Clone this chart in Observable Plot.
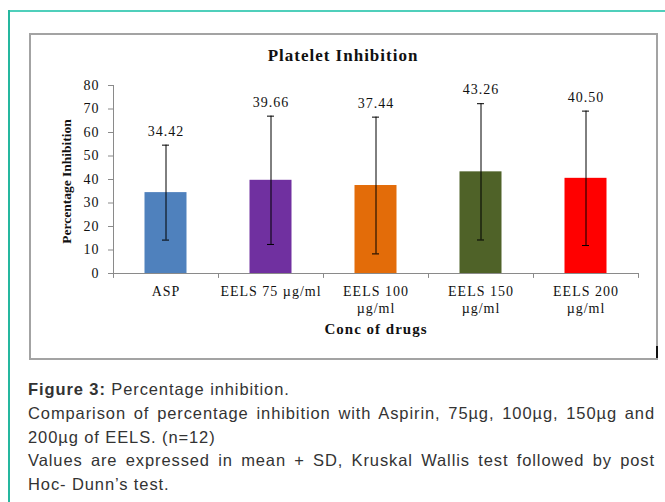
<!DOCTYPE html>
<html>
<head>
<meta charset="utf-8">
<script src="https://cdn.jsdelivr.net/npm/d3@7"></script>
<script src="https://cdn.jsdelivr.net/npm/@observablehq/plot@0.6"></script>
<style>
  html, body { margin: 0; padding: 0; background: #fff; }
  body { width: 665px; height: 502px; position: relative; overflow: hidden; }
  .teal-top { position: absolute; left: 8px; top: 10px; width: 700px; height: 0; border-top: 2px solid #4fcfbb; }
  .teal-left { position: absolute; left: 8px; top: 10px; width: 0; height: 520px; border-left: 2px solid #25b79f; }
  .box { position: absolute; left: 29px; top: 33px; width: 625px; height: 323px; border: 2px solid #a3a3a3; }
  .mark { position: absolute; left: 656px; top: 346px; width: 2px; height: 12px; background: #111; }
  #chart { position: absolute; left: 0; top: 0; }
  #chart svg text { letter-spacing: 1px; }
  #chart svg g[aria-description="ylabel"] text { letter-spacing: 0; }
  .cap { position: absolute; left: 28px; top: 378px; width: 627px;
         font-family: "Liberation Sans", Arial, sans-serif; font-size: 16.5px; letter-spacing: 0.9px;
         line-height: 23.8px; color: #333; }
  .cap div { white-space: nowrap; }
  .cap .full { text-align: justify; text-align-last: justify; white-space: normal; }
</style>
</head>
<body>
<div class="teal-top"></div>
<div class="teal-left"></div>
<div class="box"></div>
<div class="mark"></div>
<div id="chart"></div>
<div class="cap">
  <div><b>Figure 3:</b> Percentage inhibition.</div>
  <div class="full">Comparison of percentage inhibition with Aspirin, 75µg, 100µg, 150µg and</div>
  <div>200µg of EELS. (n=12)</div>
  <div class="full">Values are expressed in mean + SD, Kruskal Wallis test followed by post</div>
  <div>Hoc- Dunn’s test.</div>
</div>
<script>
const categories = ["ASP", "EELS 75 µg/ml", "EELS 100 µg/ml", "EELS 150 µg/ml", "EELS 200 µg/ml"];
const tickLabels = ["ASP", "EELS 75 µg/ml", "EELS 100\nµg/ml", "EELS 150\nµg/ml", "EELS 200\nµg/ml"];
const means = [34.42, 39.66, 37.44, 43.26, 40.50];
const sds = [20.2, 27.3, 29.1, 29.0, 28.6];
const colors = ["#4f81bd", "#7030a0", "#e36c09", "#4f6228", "#ff0000"];
const yTicks = [0, 10, 20, 30, 40, 50, 60, 70, 80];
const title = "Platelet Inhibition";
const xTitle = "Conc of drugs";
const yTitle = "Percentage Inhibition";

const data = categories.map((c, i) => ({cat: c, mean: means[i], sd: sds[i], color: colors[i]}));

const chart = Plot.plot({
  width: 665,
  height: 360,
  marginLeft: 113,
  marginRight: 27,
  marginTop: 85,
  marginBottom: 87,
  style: {fontFamily: "'Liberation Serif', 'Times New Roman', serif", fontSize: "14px", color: "#000", background: "transparent"},
  x: {domain: categories, padding: 0},
  y: {domain: [0, 80]},
  marks: [
    Plot.barY(data, {x: "cat", y: "mean", fill: "color", insetLeft: 31.5, insetRight: 31.5}),
    Plot.ruleX(data, {x: "cat", y1: d => d.mean - d.sd, y2: d => d.mean + d.sd, stroke: "#000", strokeWidth: 1}),
    Plot.tickY(data, {x: "cat", y: d => d.mean + d.sd, stroke: "#000", strokeWidth: 1, insetLeft: 49, insetRight: 49}),
    Plot.tickY(data, {x: "cat", y: d => d.mean - d.sd, stroke: "#000", strokeWidth: 1, insetLeft: 49, insetRight: 49}),
    Plot.text(data, {x: "cat", y: d => d.mean + d.sd, text: d => d.mean.toFixed(2), dy: -14, fontSize: 14, fill: "#111"}),
    Plot.ruleY([0], {stroke: "#8a8a8a", strokeWidth: 1}),
    Plot.frame({anchor: "left", stroke: "#8a8a8a", strokeWidth: 1}),
    Plot.ruleX(categories, {x: d => d, y1: 0, y2: -2.1, dx: -52.5, stroke: "#8a8a8a"}),
    Plot.ruleX([categories[categories.length - 1]], {x: d => d, y1: 0, y2: -2.1, dx: 52.5, stroke: "#8a8a8a"}),
    Plot.axisY({ticks: yTicks, tickSize: 5, tickPadding: 9, stroke: "#8a8a8a", fill: "#111", fontSize: 14, label: null}),
    Plot.axisX({tickSize: 0, tickPadding: 10, tickFormat: d => tickLabels[categories.indexOf(d)], fill: "#111", fontSize: 14, lineHeight: 1.25, label: null}),
    Plot.text([xTitle], {frameAnchor: "bottom", lineAnchor: "middle", dy: 56, fontWeight: "bold", fontSize: 15, fill: "#111"}),
    Plot.text([yTitle], {frameAnchor: "left", textAnchor: "middle", lineAnchor: "middle", dx: -47, dy: 2, rotate: -90, fontWeight: "bold", fontSize: 13.5, fill: "#111", ariaDescription: "ylabel"}),
    Plot.text([title], {frameAnchor: "top", lineAnchor: "middle", dx: -33, dy: -30, fontWeight: "bold", fontSize: 17, fill: "#111"})
  ]
});
document.getElementById("chart").appendChild(chart);
</script>
</body>
</html>
